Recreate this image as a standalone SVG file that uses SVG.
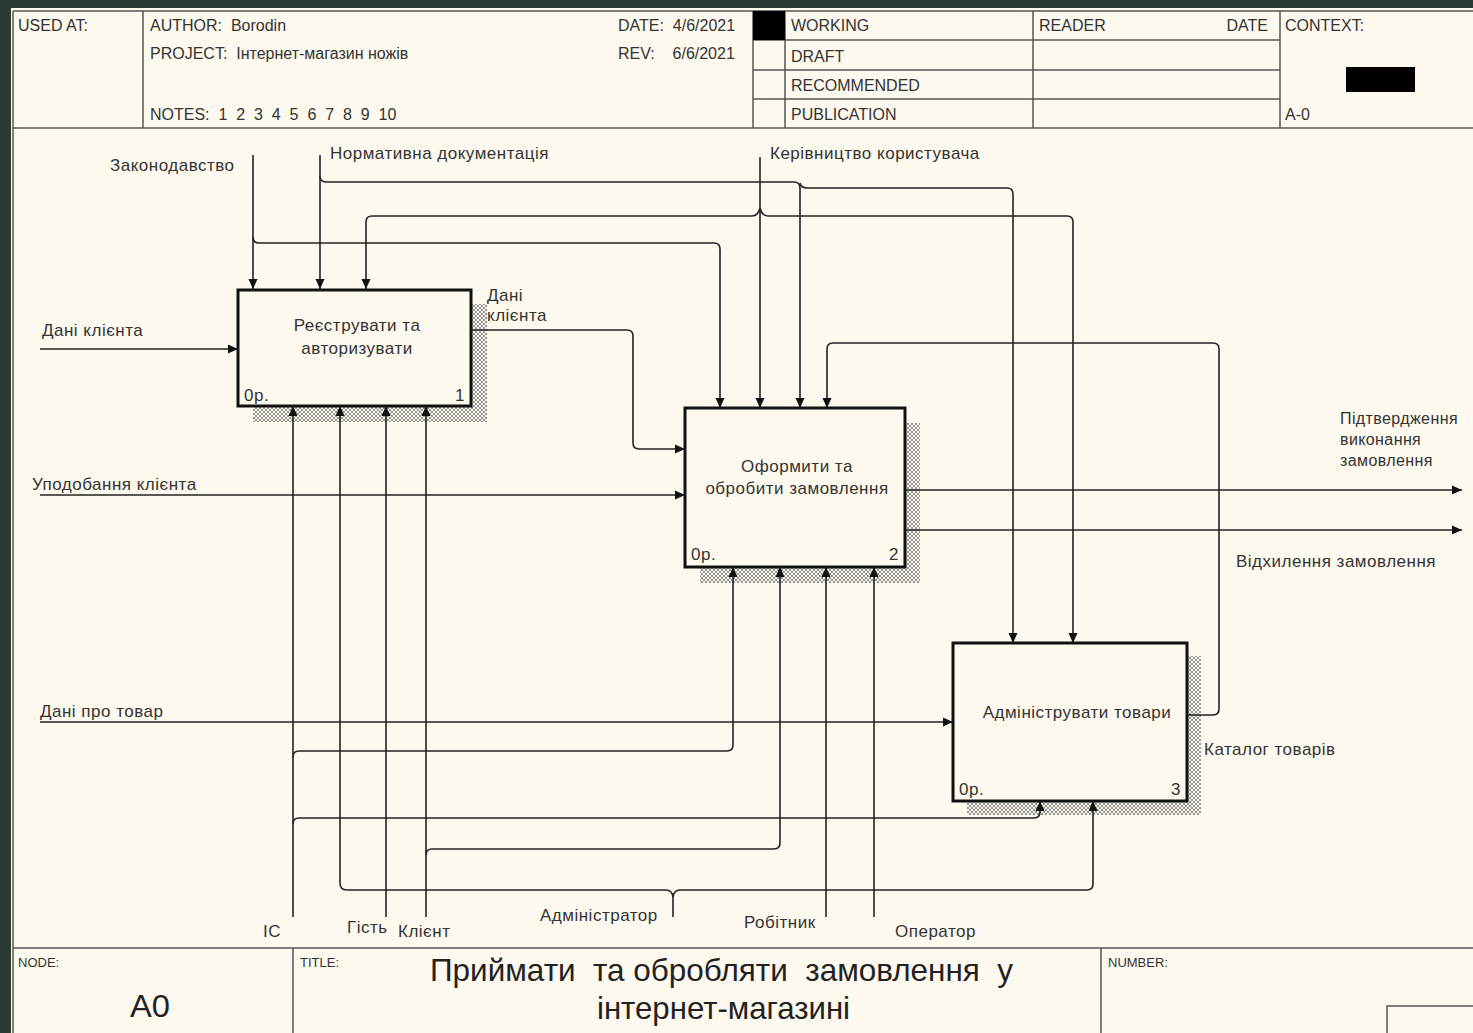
<svg xmlns="http://www.w3.org/2000/svg" width="1473" height="1033" viewBox="0 0 1473 1033">
<defs>
<style>
text{white-space:pre}
.t{font-family:"Liberation Sans",Arial,sans-serif;font-size:17px;letter-spacing:0.5px;fill:#333}
.h{font-family:"Liberation Sans",Arial,sans-serif;font-size:16px;fill:#333}
.s{font-family:"Liberation Sans",Arial,sans-serif;font-size:16px;letter-spacing:0.4px;fill:#333}
.f{font-family:"Liberation Sans",Arial,sans-serif;font-size:13px;fill:#333}
.big{font-family:"Liberation Sans",Arial,sans-serif;font-size:32px;fill:#222}
.fr{fill:none;stroke:#555;stroke-width:1.5}
.box{fill:#fdf9ee;stroke:#111;stroke-width:3}
.sh{fill:url(#hatch)}
.c{fill:none;stroke:#222;stroke-width:1.6}
.a{marker-end:url(#ah)}
</style>
<pattern id="hatch" width="4" height="4" patternUnits="userSpaceOnUse">
<rect width="4" height="4" fill="#fdf9ee"/>
<path d="M0,0 L4,4 M4,0 L0,4" stroke="#888" stroke-width="0.9"/>
</pattern>
<marker id="ah" viewBox="0 0 10 10" refX="10" refY="5" markerWidth="10" markerHeight="10" markerUnits="userSpaceOnUse" orient="auto">
<path d="M0,0.5 L10,5 L0,9.5 z" fill="#111"/>
</marker>
</defs>
<rect width="1473" height="1033" fill="#2b3a33"/>
<rect x="11" y="8" width="1462" height="1025" fill="#fdf9ee"/>
<g id="header">
<line x1="13" y1="11" x2="1473" y2="11" class="fr"/>
<line x1="13" y1="128" x2="1473" y2="128" class="fr"/>
<line x1="13" y1="11" x2="13" y2="1033" class="fr"/>
<line x1="143" y1="11" x2="143" y2="128" class="fr"/>
<line x1="753" y1="11" x2="753" y2="128" class="fr"/>
<line x1="785" y1="11" x2="785" y2="128" class="fr"/>
<line x1="1033" y1="11" x2="1033" y2="128" class="fr"/>
<line x1="1280" y1="11" x2="1280" y2="128" class="fr"/>
<line x1="753" y1="40" x2="1280" y2="40" class="fr"/>
<line x1="753" y1="70" x2="1280" y2="70" class="fr"/>
<line x1="753" y1="99" x2="1280" y2="99" class="fr"/>
<rect x="753" y="11" width="32" height="29" fill="#000"/>
<rect x="1346" y="67" width="69" height="25" fill="#000"/>
<text x="18" y="31" class="h">USED AT:</text>
<text x="150" y="31" class="h">AUTHOR:  Borodin</text>
<text x="150" y="59" class="h">PROJECT:  Інтернет-магазин ножів</text>
<text x="150" y="120" class="h">NOTES:  1  2  3  4  5  6  7  8  9  10</text>
<text x="618" y="31" class="h">DATE:  4/6/2021</text>
<text x="618" y="59" class="h">REV:    6/6/2021</text>
<text x="791" y="31" class="h">WORKING</text>
<text x="791" y="62" class="h">DRAFT</text>
<text x="791" y="91" class="h">RECOMMENDED</text>
<text x="791" y="120" class="h">PUBLICATION</text>
<text x="1039" y="31" class="h">READER</text>
<text x="1268" y="31" class="h" text-anchor="end">DATE</text>
<text x="1285" y="31" class="h">CONTEXT:</text>
<text x="1285" y="120" class="h">A-0</text>
</g>
<g id="footer">
<line x1="13" y1="948" x2="1473" y2="948" class="fr"/>
<line x1="293" y1="948" x2="293" y2="1033" class="fr"/>
<line x1="1101" y1="948" x2="1101" y2="1033" class="fr"/>
<path d="M1473,1006 H1387 V1033" class="fr"/>
<text x="18" y="967" class="f">NODE:</text>
<text x="300" y="967" class="f">TITLE:</text>
<text x="1108" y="967" class="f">NUMBER:</text>
<text x="130" y="1017" class="big" textLength="40" lengthAdjust="spacingAndGlyphs">A0</text>
<text x="430" y="981" class="big" textLength="583" lengthAdjust="spacingAndGlyphs">Приймати  та обробляти  замовлення  у</text>
<text x="597" y="1019" class="big" textLength="253" lengthAdjust="spacingAndGlyphs">інтернет-магазині</text>
</g>
<g id="node1">
<rect x="253" y="304" width="234" height="118" class="sh"/>
<rect x="238" y="290" width="233" height="116" class="box"/>
<text x="357" y="331" class="t" text-anchor="middle">Реєструвати та</text>
<text x="357" y="354" class="t" text-anchor="middle">авторизувати</text>
<text x="244" y="401" class="t">0р.</text>
<text x="465" y="401" class="t" text-anchor="end">1</text>
</g>
<g id="node2">
<rect x="700" y="423" width="220" height="160" class="sh"/>
<rect x="685" y="408" width="220" height="159" class="box"/>
<text x="797" y="472" class="t" text-anchor="middle">Оформити та</text>
<text x="797" y="494" class="t" text-anchor="middle">обробити замовлення</text>
<text x="691" y="560" class="t">0р.</text>
<text x="899" y="560" class="t" text-anchor="end">2</text>
</g>
<g id="node3">
<rect x="967" y="656" width="234" height="159" class="sh"/>
<rect x="953" y="643" width="234" height="158" class="box"/>
<text x="1077" y="718" class="t" text-anchor="middle">Адмініструвати товари</text>
<text x="959" y="795" class="t">0р.</text>
<text x="1181" y="795" class="t" text-anchor="end">3</text>
</g>
<g id="connectors">
<path class="c a" d="M40,349 H238"/>
<path class="c a" d="M40,495 H685"/>
<path class="c a" d="M40,722 H953"/>
<path class="c a" d="M471,330 H627 q6,0 6,6 V443 q0,6 6,6 H685"/>
<path class="c a" d="M253,155 V289"/>
<path class="c a" d="M253,237 q0,6 6,6 H714 q6,0 6,6 V408"/>
<path class="c a" d="M320,155 V289"/>
<path class="c a" d="M320,176 q0,6 6,6 H794 q6,0 6,6 V408"/>
<path class="c a" d="M800,183 q1,5 7,5 H1007 q6,0 6,6 V643"/>
<path class="c a" d="M760,157 V408"/>
<path class="c a" d="M760,208 q-2,8 -8,8 H372 q-6,0 -6,6 V289"/>
<path class="c a" d="M760,208 q2,8 8,8 H1067 q6,0 6,6 V643"/>
<path class="c a" d="M1187,715 H1213 q6,0 6,-6 V349 q0,-6 -6,-6 H833 q-6,0 -6,6 V408"/>
<path class="c a" d="M905,490 H1462"/>
<path class="c a" d="M905,530 H1462"/>
<path class="c a" d="M293,917 V406"/>
<path class="c a" d="M293,757 q0,-6 6,-6 H727 q6,0 6,-6 V567"/>
<path class="c a" d="M293,824 q0,-6 6,-6 H1034 q6,0 6,-6 V801"/>
<path class="c a" d="M386,917 V406"/>
<path class="c a" d="M426,917 V406"/>
<path class="c a" d="M426,855 q0,-6 6,-6 H774 q6,0 6,-6 V567"/>
<path class="c" d="M673,917 V897"/>
<path class="c a" d="M673,897 q-1,-7 -7,-7 H347 q-7,0 -7,-7 V406"/>
<path class="c a" d="M673,897 q1,-7 7,-7 H1087 q6,0 6,-6 V801"/>
<path class="c a" d="M826,917 V567"/>
<path class="c a" d="M874,917 V567"/>
</g>
<g id="labels">
<text x="110" y="171" class="t">Законодавство</text>
<text x="330" y="159" class="t">Нормативна документація</text>
<text x="770" y="159" class="t">Керівництво користувача</text>
<text x="42" y="336" class="t">Дані клієнта</text>
<text x="487" y="301" class="t">Дані</text>
<text x="487" y="321" class="t">клієнта</text>
<text x="32" y="490" class="t">Уподобання клієнта</text>
<text x="40" y="717" class="t">Дані про товар</text>
<text x="1340" y="424" class="s">Підтвердження</text>
<text x="1340" y="445" class="s">виконання</text>
<text x="1340" y="466" class="s">замовлення</text>
<text x="1236" y="567" class="t">Відхилення замовлення</text>
<text x="1204" y="755" class="t">Каталог товарів</text>
<text x="263" y="937" class="t">ІС</text>
<text x="347" y="933" class="t">Гість</text>
<text x="398" y="937" class="t">Клієнт</text>
<text x="540" y="921" class="t">Адміністратор</text>
<text x="744" y="928" class="t">Робітник</text>
<text x="895" y="937" class="t">Оператор</text>
</g>
</svg>
